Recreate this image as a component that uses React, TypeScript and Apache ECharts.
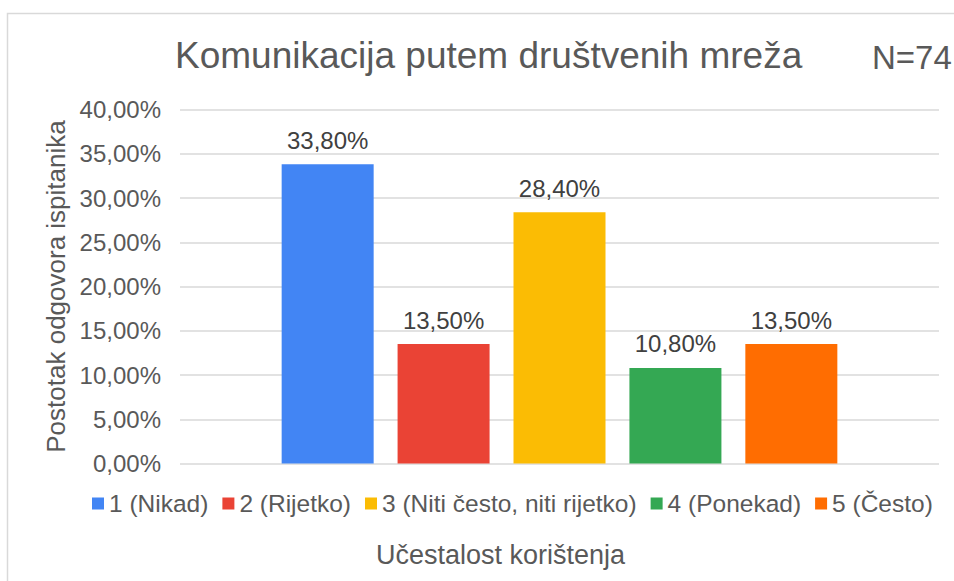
import React, { useEffect, useRef } from "react";
import * as echarts from "echarts";

const seriesNames = ["1 (Nikad)", "2 (Rijetko)", "3 (Niti često, niti rijetko)", "4 (Ponekad)", "5 (Često)"];
const seriesValues = [33.8, 13.5, 28.4, 10.8, 13.5];
const seriesColors = ["#4285F4", "#EA4335", "#FBBC04", "#34A853", "#FF6D01"];
const categories = [""];
const chartTitle = "Komunikacija putem društvenih mreža";
const sampleNote = "N=74";
const xAxisName = "Učestalost korištenja";
const yAxisName = "Postotak odgovora ispitanika";

const FONT = "'Liberation Sans', Arial, sans-serif";
const fmt = (v: number) => v.toFixed(2).replace(".", ",") + "%";

export default function App() {
  const ref = useRef<HTMLDivElement>(null);
  useEffect(() => {
    if (!ref.current) return;
    const chart = echarts.init(ref.current, undefined, { renderer: "svg" });
    chart.setOption({
      animation: false,
      backgroundColor: "#ffffff",
      textStyle: { fontFamily: FONT },
      graphic: [
        {
          type: "rect",
          shape: { x: 7.5, y: 13.5, width: 1000, height: 1000 },
          style: { fill: "none", stroke: "#d9d9d9", lineWidth: 1.5 },
          silent: true,
        },
      ],
      title: [
        {
          text: chartTitle,
          left: 170,
          top: 32,
          textStyle: { fontFamily: FONT, fontSize: 37, fontWeight: "normal", color: "#595959" },
        },
        {
          text: sampleNote,
          left: 867,
          top: 36,
          textStyle: { fontFamily: FONT, fontSize: 33, fontWeight: "normal", color: "#595959" },
        },
      ],
      legend: {
        top: 486,
        left: 87,
        icon: "rect",
        itemWidth: 12,
        itemHeight: 12,
        itemGap: 14,
        data: seriesNames,
        textStyle: { fontFamily: FONT, fontSize: 24.5, color: "#595959" },
      },
      grid: { left: 180, right: 15, top: 109.5, bottom: 117.5, containLabel: false },
      xAxis: {
        type: "category",
        data: categories,
        axisLine: { show: false },
        axisTick: { show: false },
        axisLabel: { show: false },
        name: xAxisName,
        nameLocation: "middle",
        nameGap: 78,
        nameTextStyle: { fontFamily: FONT, fontSize: 27, color: "#595959", padding: [0, 118, 0, 0] },
      },
      yAxis: {
        type: "value",
        min: 0,
        max: 40,
        interval: 5,
        axisLine: { show: false },
        axisTick: { show: false },
        axisLabel: { formatter: (v: number) => fmt(v), fontFamily: FONT, fontSize: 24, color: "#595959", margin: 19 },
        splitLine: { lineStyle: { color: "#d9d9d9", width: 1.5 } },
        name: yAxisName,
        nameLocation: "middle",
        nameRotate: 90,
        nameGap: 110,
        nameTextStyle: { fontFamily: FONT, fontSize: 26, color: "#595959" },
      },
      series: seriesNames.map((name, i) => ({
        name,
        type: "bar",
        data: [seriesValues[i]],
        barWidth: 92,
        barGap: "26%",
        itemStyle: { color: seriesColors[i] },
        label: {
          show: true,
          position: "top",
          distance: 12,
          formatter: (p: any) => fmt(p.value),
          fontFamily: FONT,
          fontSize: 24,
          color: "#404040",
        },
      })),
    });
    return () => chart.dispose();
  }, []);
  return (
    <div
      ref={ref}
      style={{ position: "fixed", left: 0, top: 0, width: 954, height: 581, background: "#fff" }}
    />
  );
}
